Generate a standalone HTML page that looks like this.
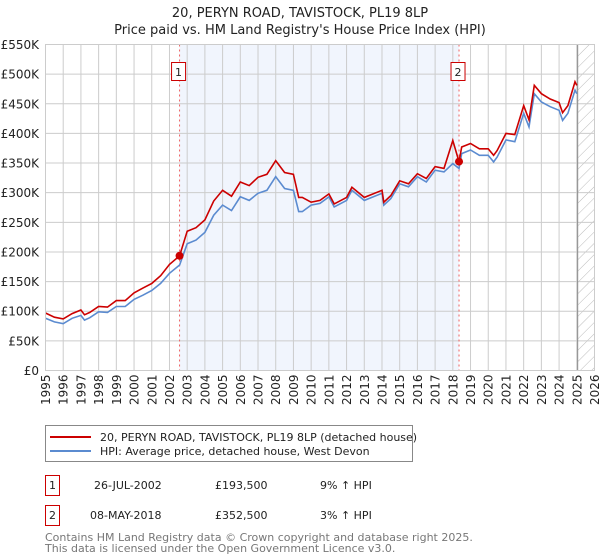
<!DOCTYPE html>
<html><head><meta charset="utf-8"><style>
body{margin:0;background:#fff;font-family:"DejaVu Sans","Liberation Sans",sans-serif;}
#wrap{position:relative;width:600px;height:560px;overflow:hidden;}
</style></head><body><div id="wrap">
<svg id="svg" width="600" height="560" xmlns="http://www.w3.org/2000/svg" style="position:absolute;left:0;top:0;font-family:'DejaVu Sans','Liberation Sans',sans-serif">
<defs><pattern id="hatch" patternUnits="userSpaceOnUse" width="8" height="8" patternTransform="rotate(45)"><line x1="0" y1="0" x2="0" y2="8" stroke="#bbb" stroke-width="1"/></pattern></defs>
<text x="300" y="17" text-anchor="middle" font-size="13" fill="#222">20, PERYN ROAD, TAVISTOCK, PL19 8LP</text>
<text x="300" y="34" text-anchor="middle" font-size="13" fill="#222">Price paid vs. HM Land Registry's House Price Index (HPI)</text>
<g id="plot"></g>
<g>
<rect x="45.5" y="425.5" width="367" height="36" fill="#fff" stroke="#888"/>
<line x1="50" y1="437" x2="91" y2="437" stroke="#cc0000" stroke-width="2"/>
<text x="100" y="441" font-size="11" fill="#222">20, PERYN ROAD, TAVISTOCK, PL19 8LP (detached house)</text>
<line x1="50" y1="451" x2="91" y2="451" stroke="#5b8bd0" stroke-width="2"/>
<text x="100" y="455" font-size="11" fill="#222">HPI: Average price, detached house, West Devon</text>
</g>
<g font-size="11" fill="#222">
<rect x="45.5" y="475.5" width="14" height="20" fill="#fff" stroke="#cc0000"/>
<text x="52.5" y="489" text-anchor="middle">1</text>
<text x="94" y="489">26-JUL-2002</text>
<text x="215" y="489">£193,500</text>
<text x="320" y="489">9% ↑ HPI</text>
<rect x="45.5" y="505.5" width="14" height="20" fill="#fff" stroke="#cc0000"/>
<text x="52.5" y="519" text-anchor="middle">2</text>
<text x="90" y="519">08-MAY-2018</text>
<text x="215" y="519">£352,500</text>
<text x="320" y="519">3% ↑ HPI</text>
</g>
<text x="45" y="541" font-size="11" fill="#777">Contains HM Land Registry data © Crown copyright and database right 2025.</text>
<text x="45" y="552" font-size="11" fill="#777">This data is licensed under the Open Government Licence v3.0.</text>
</svg></div>
<script>
const years=[1995,1995.5,1996,1996.5,1997,1997.2,1997.5,1998,1998.5,1999,1999.5,2000,2000.5,2001,2001.5,2002,2002.57,2003,2003.5,2004,2004.5,2005,2005.5,2006,2006.5,2007,2007.5,2008,2008.5,2009,2009.3,2009.5,2010,2010.5,2011,2011.3,2012,2012.3,2013,2014,2014.1,2014.5,2015,2015.5,2016,2016.5,2017,2017.5,2018,2018.35,2018.5,2019,2019.5,2020,2020.3,2020.5,2021,2021.5,2022,2022.3,2022.6,2023,2023.5,2024,2024.2,2024.5,2024.9,2025];
const hpiValues=[88,82,79,88,93,85,89,99,98,108,108,120,127,135,147,164,178,214,220,233,262,279,270,293,287,299,304,327,307,304,268,268,279,282,293,276,287,304,287,299,279,290,315,310,327,318,338,335,349,341,366,372,363,363,352,360,389,386,434,411,467,453,445,439,422,434,473,467];
const priceValues=[97,90,87,96,102,94,98,108,107,118,118,131,139,147,160,179,193.5,235,241,254,286,304,294,318,312,326,331,354,334,331,292,292,284,287,298,281,292,309,292,304,284,295,320,315,332,324,344,341,388,352.5,377,383,374,374,363,371,400,398,447,423,481,467,458,452,435,447,487,481];
const yTicks=[0,50,100,150,200,250,300,350,400,450,500,550];
const yTickLabels=["£0","£50K","£100K","£150K","£200K","£250K","£300K","£350K","£400K","£450K","£500K","£550K"];
const xTicks=[1995,1996,1997,1998,1999,2000,2001,2002,2003,2004,2005,2006,2007,2008,2009,2010,2011,2012,2013,2014,2015,2016,2017,2018,2019,2020,2021,2022,2023,2024,2025,2026];
const sales=[[2002.57,193.5],[2018.35,352.5]];
const L=45.5,R=594.5,T=44.5,B=370.5;
const xs=y=>L+(y-1995)/31*(R-L);
const ys=v=>B-v/550*(B-T);
const NS="http://www.w3.org/2000/svg";
const g=document.getElementById('plot');
function mk(t,a,p){const e=document.createElementNS(NS,t);for(const k in a)e.setAttribute(k,a[k]);(p||g).appendChild(e);return e;}
let e=mk('rect',{x:xs(sales[0][0]),y:T,width:xs(sales[1][0])-xs(sales[0][0]),height:B-T,fill:'#eef3fd',opacity:0.8});


e=mk('rect',{x:xs(2025.05),y:T,width:R-xs(2025.05),height:B-T,fill:'url(#hatch)'});


xTicks.forEach((t,i)=>{
 const l=mk('line',{x1:xs(t),x2:xs(t),y1:T,y2:B,stroke:'#ccc'});
 
 
 const tx=mk('text',{x:0,y:0,'font-size':12,fill:'#222','text-anchor':'end',transform:`translate(${xs(t)+4.5},${B+4}) rotate(-90)`});
 tx.textContent=t;
 
 
});
yTicks.forEach((v,i)=>{
 const l=mk('line',{x1:L,x2:R,y1:ys(v),y2:ys(v),stroke:'#ccc'});
 
 
 const tx=mk('text',{x:39,y:ys(v)+4.5,'font-size':12,fill:'#222','text-anchor':'end'});
 tx.textContent=yTickLabels[i];
 
 
});
e=mk('line',{x1:xs(2025.05),x2:xs(2025.05),y1:T,y2:B,stroke:'#888','stroke-width':1});


sales.forEach((s,i)=>{
 const l=mk('line',{x1:xs(s[0]),x2:xs(s[0]),y1:T,y2:B,stroke:'#f06060','stroke-dasharray':'2,3'});
 
 
 const r=mk('rect',{x:xs(s[0])-8,y:62.5,width:14,height:18,fill:'#fff',stroke:'#cc0000'});
 
 
 const tx=mk('text',{x:xs(s[0])-1,y:76,'font-size':11,'text-anchor':'middle',fill:'#222'});
 tx.textContent=i+1;
 
 
});
const path=arr=>arr.map((v,i)=>(i?'L':'M')+xs(years[i]).toFixed(1)+','+ys(v).toFixed(1)).join('');
e=mk('path',{d:path(hpiValues),fill:'none',stroke:'#5b8bd0','stroke-width':1.6});


e=mk('path',{d:path(priceValues),fill:'none',stroke:'#cc0000','stroke-width':1.6});


sales.forEach(s=>{
 const c=mk('circle',{cx:xs(s[0]),cy:ys(s[1]),r:4,fill:'#cc0000'});
 
 
});
mk('rect',{x:L,y:T,width:R-L,height:B-T,fill:'none',stroke:'#ccc'});
</script></body></html>
